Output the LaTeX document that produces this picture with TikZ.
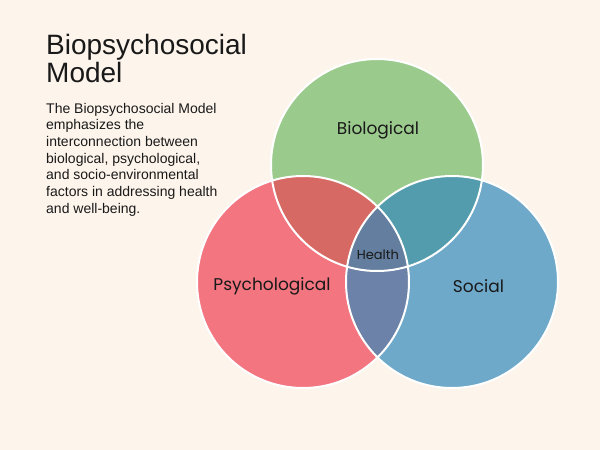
\documentclass[tikz,border=0pt]{standalone}
\usepackage{fontspec}
\setmainfont{Liberation Sans}
\newfontfamily\labelfont{Poppins}
\definecolor{bgc}{HTML}{FDF5EC}
\definecolor{cbio}{HTML}{9BCA8D}
\definecolor{cpsy}{HTML}{F37580}
\definecolor{csoc}{HTML}{6FA9CA}
\definecolor{cbp}{HTML}{D66964}
\definecolor{cbs}{HTML}{529CAD}
\definecolor{cps}{HTML}{6D82A8}
\definecolor{call}{HTML}{637E9E}
\begin{document}
\begin{tikzpicture}[x=1pt,y=-1pt,
  lbl/.style={font=\labelfont\fontsize{17}{20}\selectfont, inner sep=0pt, text=black!90},
  body/.style={font=\fontsize{14}{16.7}\selectfont, anchor=base west, inner sep=0pt, text=black!90},
  ttl/.style={font=\fontsize{28}{28}\selectfont, anchor=base west, inner sep=0pt, text=black!90}]
\fill[bgc] (0,0) rectangle (600,450);
\useasboundingbox (0,0) rectangle (600,450);
\coordinate (G) at (377,165);
\coordinate (P) at (303,282);
\coordinate (S) at (452,282);
\def\rr{106pt}
\fill[cbio] (G) circle[radius=\rr];
\fill[cpsy] (P) circle[radius=\rr];
\fill[csoc] (S) circle[radius=\rr];
\begin{scope}
  \clip (G) circle[radius=\rr];
  \fill[cbp] (P) circle[radius=\rr];
  \fill[cbs] (S) circle[radius=\rr];
\end{scope}
\begin{scope}
  \clip (P) circle[radius=\rr];
  \fill[cps] (S) circle[radius=\rr];
  \clip (S) circle[radius=\rr];
  \fill[call] (G) circle[radius=\rr];
\end{scope}
\draw[white, line width=2pt] (G) circle[radius=\rr] (P) circle[radius=\rr] (S) circle[radius=\rr];
\node[lbl] (bio) at (378,130) {Biological};
\node[lbl] (psy) at (272,286.5) {Psychological};
\node[lbl] (soc) at (478.5,286.5) {Social};
\node[lbl, font=\labelfont\fontsize{13}{15}\selectfont] (hea) at (377.8,254.3) {Health};
\node[ttl] (t1) at (46,54.3) {Biopsychosocial};
\node[ttl] (t2) at (46,82.3) {Model};
\node[body] (b1) at (46,113) {The Biopsychosocial Model};
\node[body] (b2) at (46,129.7) {emphasizes the};
\node[body] (b3) at (46,146.3) {interconnection between};
\node[body] (b4) at (46,163) {biological, psychological,};
\node[body] (b5) at (46,179.7) {and socio-environmental};
\node[body] (b6) at (46,196.3) {factors in addressing health};
\node[body] (b7) at (46,213) {and well-being.};
\end{tikzpicture}
\end{document}
